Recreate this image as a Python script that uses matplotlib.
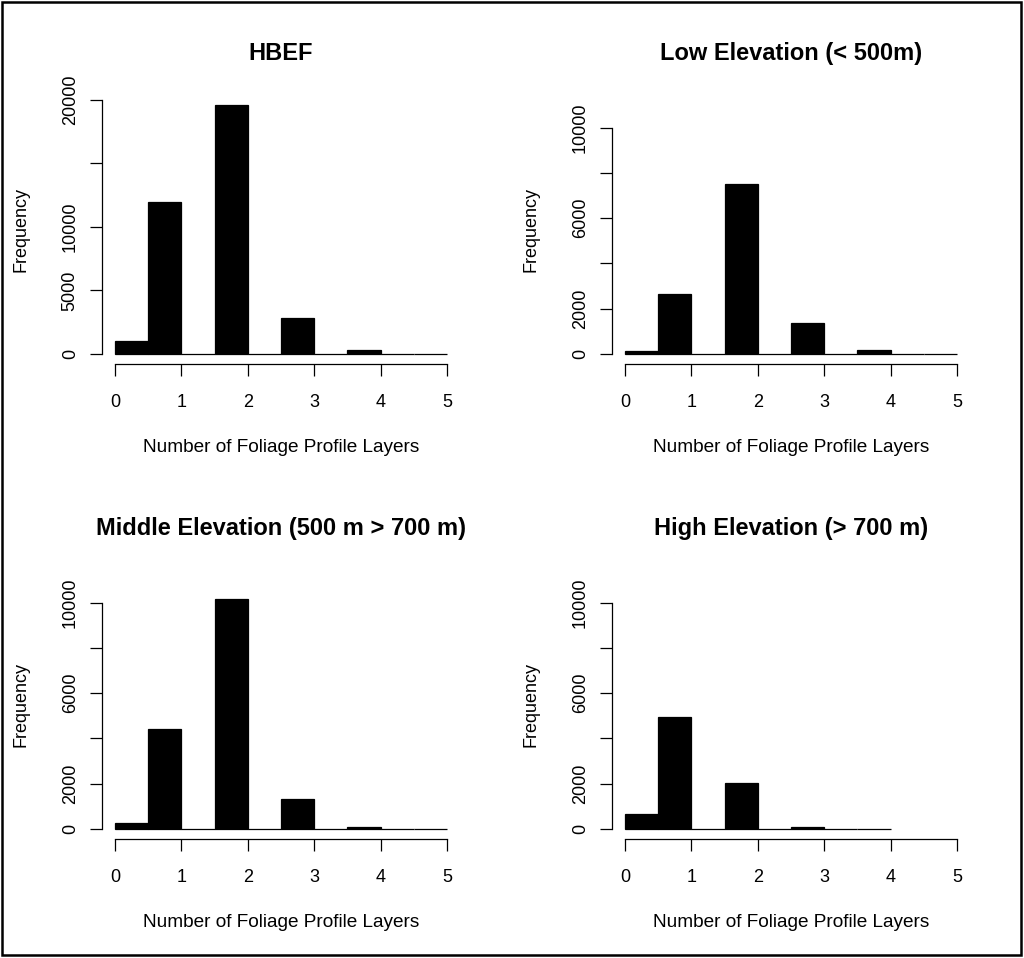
import numpy as np
import matplotlib
matplotlib.use("Agg")
import matplotlib.pyplot as plt
from matplotlib.patches import Rectangle

plt.rcParams['font.family'] = ['Liberation Sans', 'DejaVu Sans']

# bin edges (0.5 wide) and counts
edges_full = [0, 0.5, 1, 1.5, 2, 2.5, 3, 3.5, 4, 4.5, 5]
edges_high = [0, 0.5, 1, 1.5, 2, 2.5, 3, 3.5, 4]

hbef_counts = [1050, 12000, 0, 19600, 0, 2860, 0, 290, 0, 0]
low_counts = [150, 2670, 0, 7500, 0, 1360, 0, 160, 0, 0]
mid_counts = [270, 4420, 0, 10150, 0, 1330, 0, 75, 0, 0]
high_counts = [650, 4930, 0, 2030, 0, 75, 0, 0]

titles = ["HBEF", "Low Elevation (< 500m)",
          "Middle Elevation (500 m > 700 m)", "High Elevation (> 700 m)"]

hbef_yticks = [0, 5000, 10000, 15000, 20000]
hbef_ylabels = ["0", "5000", "10000", "", "20000"]
elev_yticks = [0, 2000, 4000, 6000, 8000, 10000]
elev_ylabels = ["0", "2000", "", "6000", "", "10000"]
xticks = [0, 1, 2, 3, 4, 5]

panels = [
    (edges_full, hbef_counts, max(hbef_counts), hbef_yticks, hbef_ylabels),
    (edges_full, low_counts, 11000, elev_yticks, elev_ylabels),
    (edges_full, mid_counts, 11000, elev_yticks, elev_ylabels),
    (edges_high, high_counts, 11000, elev_yticks, elev_ylabels),
]

fig = plt.figure(figsize=(10.24, 9.58), dpi=100)

W, H = 358.6 / 1024, 269 / 958
lefts = [101.7 / 1024, 611.7 / 1024]
bottoms = [1 - 364 / 958, 1 - 839 / 958]
lw = 0.9

for i, (edges, counts, ytop, yt, yl) in enumerate(panels):
    ax = fig.add_axes([lefts[i % 2], bottoms[i // 2], W, H])
    ax.bar(edges[:-1], counts, width=0.5, align='edge',
           color='black', edgecolor='black', linewidth=lw)
    ax.set_xlim(-0.2, 5.2)
    ax.set_ylim(-0.04 * ytop, 1.04 * ytop)

    for s in ['top', 'right']:
        ax.spines[s].set_visible(False)
    ax.spines['left'].set_bounds(yt[0], yt[-1])
    ax.spines['bottom'].set_bounds(0, 5)
    ax.spines['left'].set_linewidth(lw)
    ax.spines['bottom'].set_linewidth(lw)

    ax.set_xticks(xticks)
    ax.set_yticks(yt)
    ax.set_yticklabels(yl, rotation=90, va='center')
    ax.tick_params(axis='x', length=8.5, width=lw, pad=13, labelsize=13)
    ax.tick_params(axis='y', length=8.5, width=lw, pad=8, labelsize=13)

    ax.set_title(titles[i], fontsize=17, fontweight='bold', pad=25)
    ax.set_xlabel("Number of Foliage Profile Layers", fontsize=13.7, va='center')
    ax.set_ylabel("Frequency", fontsize=13, va='center')
    ax.xaxis.set_label_coords(0.5, -0.3086)
    ax.yaxis.set_label_coords(-0.225, 0.5)

# outer frame around the whole figure
fig.patches.append(Rectangle((0.0015, 0.0031), 0.9955, 0.9953, transform=fig.transFigure,
                             fill=False, edgecolor='black', linewidth=1.8))

fig.savefig("out.png", dpi=100)
